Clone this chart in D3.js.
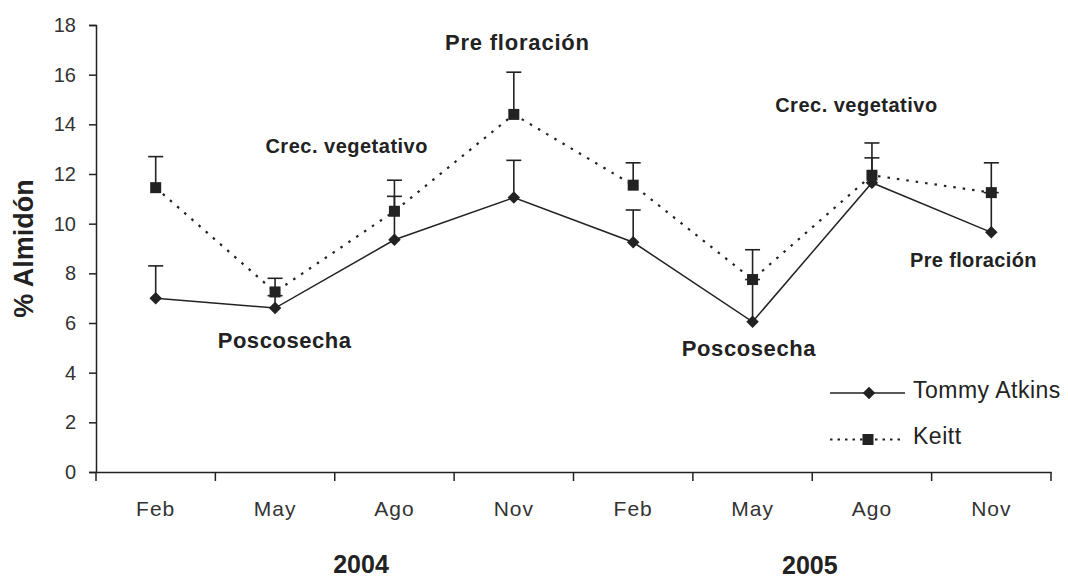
<!DOCTYPE html>
<html>
<head>
<meta charset="utf-8">
<script src="https://cdn.jsdelivr.net/npm/d3@7"></script>
<style>
body { margin: 0; background: #fff; }
svg { display: block; }
</style>
</head>
<body>
<svg id="chart" width="1068" height="579"></svg>
<script>
const categories = ["Feb", "May", "Ago", "Nov", "Feb", "May", "Ago", "Nov"];
const years = ["2004", "2005"];
const tommyValues = [7.0, 6.6, 9.35, 11.05, 9.25, 6.05, 11.65, 9.65];
const tommyErrors = [1.3, 0.5, 1.75, 1.5, 1.3, 1.7, 1.0, 1.6];
const keittValues = [11.45, 7.25, 10.5, 14.4, 11.55, 7.75, 11.95, 11.25];
const keittErrors = [1.25, 0.55, 1.25, 1.7, 0.9, 1.2, 1.3, 1.2];
const yTicks = [0, 2, 4, 6, 8, 10, 12, 14, 16, 18];
const seriesNames = ["Tommy Atkins", "Keitt"];
const annotationTexts = ["Pre floración", "Crec. vegetativo", "Poscosecha", "Crec. vegetativo", "Pre floración", "Poscosecha"];
const annotationIdx = [3.03, 1.6, 1.08, 5.87, 6.85, 4.97];
const annotationValues = [17.0, 12.85, 5.0, 14.5, 8.25, 4.67];

const svg = d3.select("#chart");
const plotLeft = 96, plotRight = 1051, plotTop = 25, plotBottom = 472;

const x = d3.scaleBand().domain(d3.range(categories.length)).range([plotLeft, plotRight]);
const y = d3.scaleLinear().domain([0, 18]).range([plotBottom, plotTop]);
const cx = i => x(i) + x.bandwidth() / 2;
const cxf = f => plotLeft + (f + 0.5) * x.bandwidth();
const ink = "#222";
const font = "'Liberation Sans', Arial, sans-serif";
const annStyle = [
  { size: 22, ls: 0.8 }, { size: 20, ls: 0.5 }, { size: 22, ls: 0.55 },
  { size: 20, ls: 0.5 }, { size: 20, ls: 0.35 }, { size: 22, ls: 0.6 }
];

// axes
const yAxis = d3.axisLeft(y).tickValues(yTicks).tickSize(7).tickFormat(d3.format("d"));
const gy = svg.append("g").attr("transform", `translate(${plotLeft},0)`).call(yAxis);
gy.select(".domain").attr("stroke", ink).attr("stroke-width", 1.5);
gy.selectAll(".tick line").attr("stroke", ink).attr("stroke-width", 1.5);
gy.selectAll(".tick text").attr("x", -20)
  .style("font-family", font)
  .style("font-size", "20px").attr("fill", "#333");

const gx = svg.append("g").attr("transform", `translate(0,${plotBottom})`)
  .call(d3.axisBottom(x).tickSize(0).tickFormat(i => categories[i]));
gx.select(".domain").attr("stroke", ink).attr("stroke-width", 1.5);
gx.selectAll(".tick text").attr("y", 44).attr("dy", 0)
  .style("font-family", font).style("letter-spacing", "1px")
  .style("font-size", "21px").attr("fill", "#333");
// x tick marks at band edges
const edges = d3.range(categories.length + 1).map(i => plotLeft + i * x.bandwidth());
svg.append("g").selectAll("line").data(edges).join("line")
  .attr("x1", d => d).attr("x2", d => d)
  .attr("y1", plotBottom).attr("y2", plotBottom + 9)
  .attr("stroke", ink).attr("stroke-width", 1.5);

// year labels
svg.append("g").selectAll("text").data(years).join("text")
  .attr("x", (d, i) => i === 0 ? cxf(1.72) : cxf(5.48))
  .attr("y", (d, i) => i === 0 ? 573 : 574)
  .attr("text-anchor", "middle")
  .style("font-family", font)
  .style("font-weight", "bold").style("font-size", "25px").attr("fill", ink)
  .text(d => d);

// y axis title
svg.append("text")
  .attr("transform", `translate(33,${y(9.0)}) rotate(-90)`)
  .attr("text-anchor", "middle")
  .style("font-family", font)
  .style("font-weight", "bold").style("font-size", "27px").attr("fill", ink)
  .text("% Almidón");

// error bars
function errorBars(vals, errs) {
  const g = svg.append("g");
  vals.forEach((v, i) => {
    const hi = v + errs[i];
    g.append("line").attr("x1", cx(i)).attr("x2", cx(i))
      .attr("y1", y(v)).attr("y2", y(hi)).attr("stroke", ink).attr("stroke-width", 1.6);
    g.append("line").attr("x1", cx(i) - 7.5).attr("x2", cx(i) + 7.5)
      .attr("y1", y(hi)).attr("y2", y(hi)).attr("stroke", ink).attr("stroke-width", 1.6);
  });
}
errorBars(tommyValues, tommyErrors);
errorBars(keittValues, keittErrors);

const line = d3.line().x((d, i) => cx(i)).y(d => y(d));
svg.append("path").datum(tommyValues).attr("d", line)
  .attr("fill", "none").attr("stroke", ink).attr("stroke-width", 1.5);
svg.append("path").datum(keittValues).attr("d", line)
  .attr("fill", "none").attr("stroke", ink).attr("stroke-width", 2.2)
  .attr("stroke-dasharray", "2.5,7");

const diamond = d3.symbol().type(d3.symbolDiamond2).size(100);
const square = d3.symbol().type(d3.symbolSquare).size(121);
svg.append("g").selectAll("path").data(tommyValues).join("path")
  .attr("transform", (d, i) => `translate(${cx(i)},${y(d)})`)
  .attr("d", diamond).attr("fill", ink);
svg.append("g").selectAll("path").data(keittValues).join("path")
  .attr("transform", (d, i) => `translate(${cx(i)},${y(d)})`)
  .attr("d", square).attr("fill", ink);

// annotations
svg.append("g").selectAll("text").data(annotationTexts).join("text")
  .attr("x", (d, i) => cxf(annotationIdx[i])).attr("y", (d, i) => y(annotationValues[i]))
  .attr("text-anchor", "middle")
  .style("font-family", font)
  .style("font-weight", "bold")
  .style("font-size", (d, i) => annStyle[i].size + "px")
  .style("letter-spacing", (d, i) => annStyle[i].ls + "px")
  .attr("fill", ink)
  .text(d => d);

// legend
const legend = svg.append("g");
const ly = [393, 439.5];
legend.append("line").attr("x1", 830).attr("x2", 905).attr("y1", ly[0]).attr("y2", ly[0])
  .attr("stroke", ink).attr("stroke-width", 1.5);
legend.append("path").attr("transform", `translate(869,${ly[0]})`).attr("d", diamond).attr("fill", ink);
legend.append("line").attr("x1", 830).attr("x2", 903).attr("y1", ly[1]).attr("y2", ly[1])
  .attr("stroke", ink).attr("stroke-width", 2).attr("stroke-dasharray", "2.5,5");
legend.append("path").attr("transform", `translate(868,${ly[1]})`).attr("d", square).attr("fill", ink);
legend.selectAll("text").data(seriesNames).join("text")
  .attr("x", 913).attr("y", (d, i) => ly[i] + 4.5)
  .style("font-family", font).style("letter-spacing", "0.5px")
  .style("font-size", "23px").attr("fill", ink)
  .text(d => d);
</script>
</body>
</html>
